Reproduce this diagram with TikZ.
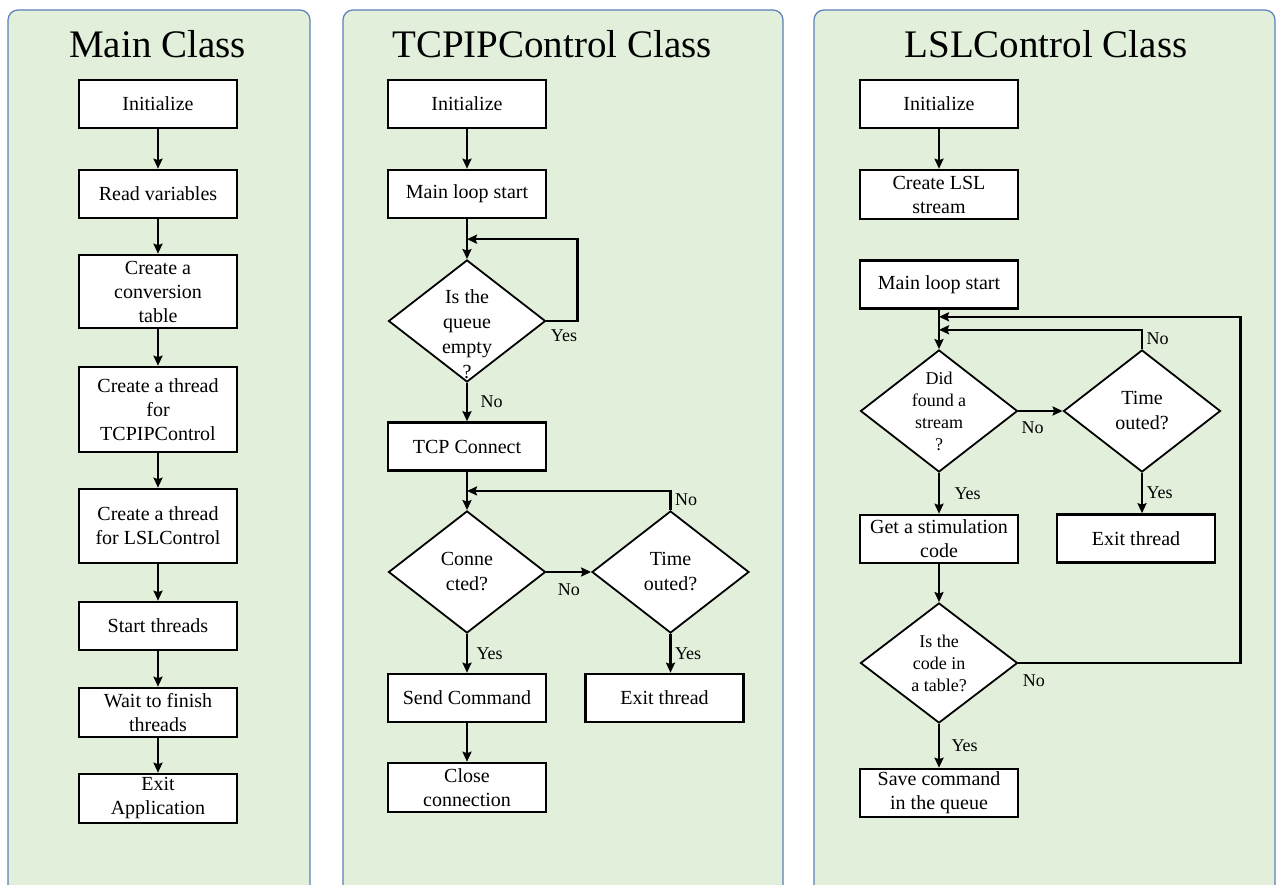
\documentclass[tikz,border=0pt]{standalone}
\usepackage{fontspec}
\setmainfont{Liberation Serif}
\usetikzlibrary{shapes.geometric, arrows, arrows.meta}
\usetikzlibrary{calc}
\definecolor{panelfill}{HTML}{E2EFDA}
\definecolor{panelline}{HTML}{5B7DB8}
\tikzstyle{panel} = [rounded corners=10pt, draw=panelline, line width=1.2pt, fill=panelfill]
\tikzstyle{title} = [font=\fontsize{39}{44}\selectfont]
\tikzstyle{process} = [rectangle, minimum width=158pt, minimum height=48pt, inner sep=2pt, text centered, align=center, draw=black, line width=2.6pt, fill=white, font=\fontsize{20}{24}\selectfont]
\tikzstyle{decision} = [diamond, minimum width=157pt, minimum height=122pt, inner sep=0pt, draw=black, line width=1.8pt, fill=white]
\tikzstyle{dtext} = [align=center, font=\fontsize{20}{25}\selectfont]
\tikzstyle{dtextsmall} = [align=center, font=\fontsize{18}{22}\selectfont]
\tikzstyle{answer} = [font=\fontsize{18}{20}\selectfont]
\tikzstyle{arrow} = [->,>={Stealth[length=10pt,width=9pt,inset=1.5pt]}, line width=2.4pt]

\begin{document}
\begin{tikzpicture}[x=1pt, y=1pt, node distance=90pt]
	\useasboundingbox (0,0) rectangle (1277,-885);
	\clip (0,0) rectangle (1277,-885);
	% panels
	\draw [panel] (8,-10) rectangle (310,-905);
	\draw [panel] (343,-10) rectangle (783,-905);
	\draw [panel] (814,-10) rectangle (1275,-905);
	\node (TM) [title] at (157.5,-44) {Main Class};
	\node (TT) [title] at (552,-44) {TCPIPControl Class};
	\node (TL) [title] at (1046,-44) {LSLControl Class};
	
	% Main Class
	\node (M1) [process] at (158,-104) {Initialize};
	\node (M2) [process, below of=M1] {Read variables};
	\node (M3) [process, below of=M2, yshift=-7.5pt, minimum height=73pt] {Create a\\conversion\\table};
	\node (M4) [process, below of=M3, yshift=-28pt, minimum height=85pt] {Create a thread\\for\\TCPIPControl};
	\node (M5) [process, below of=M4, yshift=-26.5pt, minimum height=74pt] {Create a thread\\for LSLControl};
	\node (M6) [process, below of=M5, yshift=-10pt] {Start threads};
	\node (M7) [process, below of=M6, yshift=3.5pt, minimum height=49pt] {Wait to finish\\threads};
	\node (M8) [process, below of=M7, yshift=4pt, minimum height=49pt] {Exit\\Application};
	\draw [arrow](M1) -- (M2);
	\draw [arrow](M2) -- (M3);
	\draw [arrow](M3) -- (M4);
	\draw [arrow](M4) -- (M5);
	\draw [arrow](M5) -- (M6);
	\draw [arrow](M6) -- (M7);
	\draw [arrow](M7) -- (M8);
	
	% TCPIPControl Class
	\node (T1) [process] at (467,-104) {Initialize};
	\node (T2) [process, below of=T1] {Main loop start};
	\node (D1) [decision, below of=T2, yshift=-37pt] {};
	\node (D1t) [dtext] at ($(D1)+(0,-13)$) {Is the\\queue\\empty\\?};
	\node (T3) [process, below of=D1, yshift=-35.5pt] {TCP Connect};
	\node (D2) [decision, below of=T3, yshift=-35.5pt] {};
	\node (D2t) [dtext] at (D2) {Conne\\cted?};
	\node (D3) [decision, right of=D2, xshift=113.5pt] {};
	\node (D3t) [dtext] at (D3) {Time\\outed?};
	\node (T4) [process, below of=D2, yshift=-36pt] {Send Command};
	\node (T5) [process, below of=D3, xshift=-6pt, yshift=-36pt] {Exit thread};
	\node (T6) [process, below of=T4, yshift=0.5pt, minimum height=49pt] {Close\\connection};
	\coordinate (J1) at ($(T2.south)!0.5!(D1.north)$);
	\coordinate (J2) at ($(T3.south)!0.5!(D2.north)$);
	\draw [arrow](T1) -- (T2);
	\draw [arrow](T2) -- (D1);
	\draw [arrow](D1.east) node[answer, below right, yshift=-4pt] {Yes} -- ++(31,0) |- (J1);
	\draw [arrow](D1) -- node[answer, right=9pt] {No} (T3);
	\draw [arrow](T3) -- (D2);
	\draw [arrow](D2) -- node[answer, below, yshift=-7pt] {No} (D3);
	\draw [arrow](D3.north) node[answer, above right] {No} |- (J2);
	\draw [arrow](D2) -- node[answer, right=5pt] {Yes} (T4);
	\draw [arrow](D3.south) -- node[answer, right] {Yes} (D3.south |- T5.north);
	\draw [arrow](T4) -- (T6);
	
	% LSLControl Class
	\node (L1) [process] at (939,-104) {Initialize};
	\node (L2) [process, below of=L1, yshift=-0.5pt, minimum height=49pt] {Create LSL\\stream};
	\node (L3) [process, below of=L2] {Main loop start};
	\node (D4) [decision, below of=L3, yshift=-36.5pt] {};
	\node (D4t) [dtextsmall] at (D4) {Did\\found a\\stream\\?};
	\node (D5) [decision, right of=D4, xshift=113pt] {};
	\node (D5t) [dtext] at (D5) {Time\\outed?};
	\node (L4) [process, below of=D4, yshift=-38pt] {Get a stimulation\\code};
	\node (L5) [process, below of=D5, xshift=-6pt, yshift=-37.5pt] {Exit thread};
	\node (D6) [decision, below of=L4, yshift=-34pt, minimum height=120pt] {};
	\node (D6t) [dtextsmall] at (D6) {Is the\\code in\\a table?};
	\node (L6) [process, below of=D6, yshift=-40pt] {Save command\\in the queue};
	\coordinate (J3) at ($(L3.south)+(0,-7)$);
	\coordinate (J4) at ($(L3.south)+(0,-20)$);
	\draw [arrow](L1) -- (L2);
	\draw [arrow](L3) -- (D4);
	\draw [arrow](D4) -- node[answer, below, xshift=-8pt, yshift=-6pt] {No} (D5);
	\draw [arrow](D5.north) node[answer, above right] {No} |- (J4);
	\draw [arrow](D4) -- node[answer, right=11pt] {Yes} (L4);
	\draw [arrow](D5.south) -- node[answer, right] {Yes} (D5.south |- L5.north);
	\draw [arrow](L4) -- (D6);
	\draw [arrow](D6.east) node[answer, below right, yshift=-7pt] {No} -- ++(222,0) |- (J3);
	\draw [arrow](D6) -- node[answer, right=8pt] {Yes} (L6);
\end{tikzpicture}
\end{document}
